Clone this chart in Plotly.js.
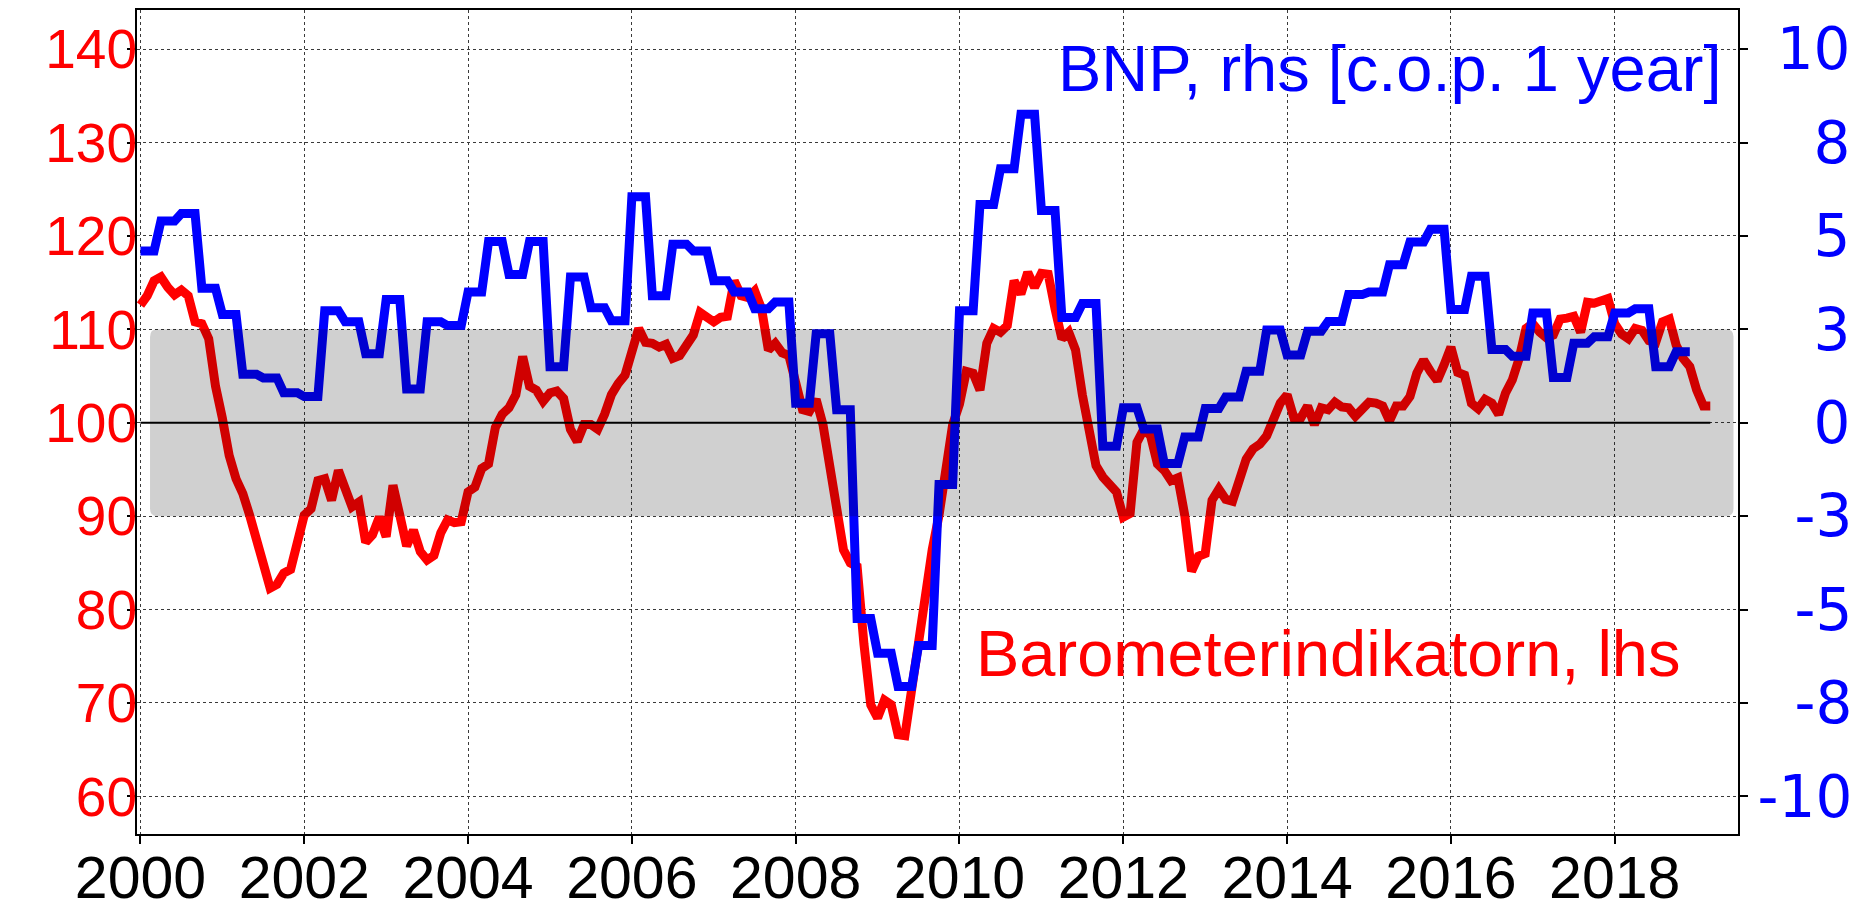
<!DOCTYPE html>
<html>
<head>
<meta charset="utf-8">
<script src="https://cdn.plot.ly/plotly-3.0.1.min.js"></script>
<style>html,body{margin:0;padding:0;background:#fff;}#chart{width:1857px;height:910px;}</style>
</head>
<body>
<div id="chart"></div>
<script>
// ---- DATA ----
// Barometerindikatorn (lhs), monthly, Jan 2000 .. Mar 2019
const baroStart = 2000; // first month = January 2000
const barometer = [
  112.6, 113.6, 115.2, 115.6, 114.5, 113.7, 114.2, 113.6, 110.8, 110.6, 109.0, 103.9,
  100.5, 96.5, 94.0, 92.4, 90.1, 87.3, 84.6, 82.3, 82.7, 83.9, 84.3, 87.3,
  90.1, 90.8, 93.8, 94.0, 91.7, 94.9, 93.0, 91.0, 91.5, 87.2, 88.0, 89.9,
  87.8, 93.3, 90.1, 86.8, 88.5, 86.2, 85.3, 85.8, 88.2, 89.6, 89.3, 89.4,
  92.6, 93.1, 95.1, 95.6, 99.5, 100.9, 101.6, 103.0, 107.1, 103.9, 103.5, 102.3,
  103.2, 103.4, 102.6, 99.3, 98.0, 99.8, 99.8, 99.3, 100.9, 103.0, 104.2, 105.1,
  107.6, 110.1, 108.6, 108.5, 108.1, 108.4, 106.9, 107.2, 108.3, 109.4, 111.8, 111.3,
  110.8, 111.3, 111.4, 115.2, 113.6, 113.4, 114.1, 112.2, 107.8, 108.5, 107.5, 107.2,
  103.9, 101.4, 101.2, 102.5, 99.8, 95.2, 91.9, 86.4, 85.0, 84.6, 76.3, 69.8,
  68.4, 70.3, 69.8, 66.6, 66.5, 71.7, 77.2, 82.7, 86.4, 90.1, 95.6, 99.8,
  102.0, 105.5, 105.3, 103.5, 108.5, 110.1, 109.7, 110.4, 115.2, 113.8, 116.1, 114.5,
  116.0, 115.9, 112.2, 109.0, 109.7, 107.8, 103.0, 99.3, 95.4, 94.2, 93.5, 92.6,
  89.9, 90.3, 97.9, 99.3, 98.6, 95.6, 94.9, 93.8, 94.1, 90.1, 84.1, 85.7,
  86.0, 91.7, 92.9, 91.8, 91.6, 94.2, 96.1, 97.2, 97.7, 98.6, 100.7, 102.1,
  103.0, 100.5, 100.5, 101.8, 99.8, 101.6, 101.4, 102.2, 101.7, 101.6, 100.7, 101.5,
  102.2, 102.1, 101.8, 100.2, 101.8, 101.8, 102.8, 105.3, 106.7, 105.5, 104.5, 106.2,
  108.1, 105.4, 105.1, 102.1, 101.5, 102.5, 102.1, 100.9, 103.2, 104.6, 106.9, 110.1,
  110.6, 109.7, 109.1, 109.4, 111.1, 111.2, 111.4, 109.7, 112.9, 112.8, 113.1, 113.3,
  110.6, 109.5, 109.0, 110.1, 109.9, 108.8, 108.6, 110.8, 111.1, 108.3, 106.9, 106.0,
  103.5, 101.8, 101.8
];

// BNP (rhs), yearly change in %, quarterly, 2000Q1 .. 2018Q4
const bnpStart = 2000;
const bnpQuarterly = [
  4.6, 5.4, 5.6, 3.6,
  2.9, 1.3, 1.2, 0.8,
  0.7, 3.0, 2.7, 1.85,
  3.3, 0.9, 2.7, 2.6,
  3.5, 4.85, 3.97, 4.85,
  1.5, 3.9, 3.08, 2.73,
  6.05, 3.4, 4.78, 4.6,
  3.8, 3.5, 3.05, 3.23,
  0.52, 2.38, 0.35, -5.24,
  -6.17, -7.06, -5.96, -1.65,
  3.0, 5.84, 6.8, 8.26,
  5.68, 2.82, 3.19, -0.63,
  0.40, -0.17, -1.09, -0.38,
  0.38, 0.69, 1.38, 2.48,
  1.81, 2.45, 2.71, 3.43,
  3.5, 4.23, 4.84, 5.18,
  3.03, 3.92, 1.96, 1.78,
  2.94, 1.21, 2.13, 2.3,
  2.94, 3.05, 1.5, 1.9
];

const xTickVals = [2000, 2002, 2004, 2006, 2008, 2010, 2012, 2014, 2016, 2018];
const xTickText = ['2000', '2002', '2004', '2006', '2008', '2010', '2012', '2014', '2016', '2018'];
const leftTickVals = [60, 70, 80, 90, 100, 110, 120, 130, 140];
const rightTickVals = [-10, -7.5, -5, -2.5, 0, 2.5, 5, 7.5, 10];
const rightTickText = ['-10', '-8', '-5', '-3', '0', '3', '5', '8', '10'];
const bandLow = 90, bandHigh = 110, refLevel = 100;

const labelBNP = 'BNP, rhs [c.o.p. 1 year]';
const labelBaro = 'Barometerindikatorn, lhs';

// ---- BUILD ----
const baroX = barometer.map((v, i) => baroStart + i / 12);
// quarterly values drawn as monthly steps (each quarter held over its three months)
const bnpX = [], bnpY = [];
bnpQuarterly.forEach((v, q) => {
  for (let k = 0; k < 3; k++) { bnpX.push(bnpStart + (3 * q + k) / 12); bnpY.push(v); }
});

// right-align right-hand labels by padding with fixed-width spaces
const rightTickPadded = rightTickText.map(t => {
  let pad = '';
  if (t[0] !== '-') pad += '\u2004';
  const digits = t.replace('-', '').length;
  for (let i = digits; i < 2; i++) pad += '\u2007';
  return pad + t;
});

const RED = '#FF0000', BLUE = '#0000FF';
const FONT = '"Liberation Sans", Arial, Helvetica, sans-serif';
const FONT_R = '"DejaVu Sans", "Liberation Sans", Arial, sans-serif';

const traces = [
  { x: baroX, y: barometer, type: 'scatter', mode: 'lines', name: labelBaro,
    line: { color: RED, width: 9 }, yaxis: 'y', hoverinfo: 'skip' },
  { x: bnpX, y: bnpY, type: 'scatter', mode: 'lines', name: labelBNP,
    line: { color: BLUE, width: 9 }, yaxis: 'y2', hoverinfo: 'skip' }
];

// band with rounded corners
const bx0 = 2000.117, bx1 = 2019.45, rx = 0.09, ry = 0.8;
const bandPath =
  `M ${bx0 + rx},${bandHigh} L ${bx1 - rx},${bandHigh} Q ${bx1},${bandHigh} ${bx1},${bandHigh - ry} ` +
  `L ${bx1},${bandLow + ry} Q ${bx1},${bandLow} ${bx1 - rx},${bandLow} ` +
  `L ${bx0 + rx},${bandLow} Q ${bx0},${bandLow} ${bx0},${bandLow + ry} ` +
  `L ${bx0},${bandHigh - ry} Q ${bx0},${bandHigh} ${bx0 + rx},${bandHigh} Z`;

const gridStyle = { showgrid: true, gridcolor: '#3a3a3a', griddash: 'dot', gridwidth: 1 };

const layout = {
  width: 1857, height: 910,
  margin: { l: 137, r: 119, t: 10, b: 76, pad: 0 },
  paper_bgcolor: '#ffffff', plot_bgcolor: '#ffffff',
  showlegend: false,
  font: { family: FONT },
  xaxis: Object.assign({
    range: [1999.958, 2019.505], tickmode: 'array', tickvals: xTickVals, ticktext: xTickText,
    tickfont: { size: 59, color: '#000000', family: FONT }, ticklabelstandoff: -17,
    showline: true, linecolor: '#000000', linewidth: 2, mirror: true,
    ticks: 'outside', ticklen: 8, tickwidth: 2, tickcolor: '#000000', zeroline: false
  }, gridStyle),
  yaxis: Object.assign({
    range: [55.97, 144.19], tickmode: 'array', tickvals: leftTickVals,
    tickfont: { size: 55, color: RED, family: FONT }, ticklabelstandoff: -21,
    showline: true, linecolor: '#000000', linewidth: 2, mirror: true,
    ticks: 'outside', ticklen: 8, tickwidth: 2, tickcolor: '#000000', zeroline: false
  }, gridStyle),
  yaxis2: {
    overlaying: 'y', side: 'right', range: [-11.0075, 11.0475],
    tickmode: 'array', tickvals: rightTickVals, ticktext: rightTickPadded,
    tickfont: { size: 58, color: BLUE, family: FONT_R }, ticklabelstandoff: -2,
    showgrid: false, zeroline: false,
    showline: true, linecolor: '#000000', linewidth: 2,
    ticks: 'outside', ticklen: 8, tickwidth: 2, tickcolor: '#000000'
  },
  shapes: [
    { type: 'path', xref: 'x', yref: 'y', path: bandPath, layer: 'above',
      fillcolor: 'rgba(0,0,0,0.184)', line: { width: 0 } },
    { type: 'line', xref: 'x', yref: 'y', x0: baroX[0], x1: baroX[baroX.length - 1],
      y0: refLevel, y1: refLevel, layer: 'above', line: { color: '#000000', width: 2 } }
  ],
  annotations: [
    { text: labelBNP, xref: 'paper', yref: 'paper', x: 0.9915, y: 0.9284,
      xanchor: 'right', yanchor: 'middle', showarrow: false,
      font: { size: 65, color: BLUE, family: FONT } },
    { text: labelBaro, xref: 'paper', yref: 'paper', x: 0.9658, y: 0.2192,
      xanchor: 'right', yanchor: 'middle', showarrow: false,
      font: { size: 65, color: RED, family: FONT } }
  ]
};

Plotly.newPlot('chart', traces, layout, { staticPlot: true, displayModeBar: false });
</script>
</body>
</html>
